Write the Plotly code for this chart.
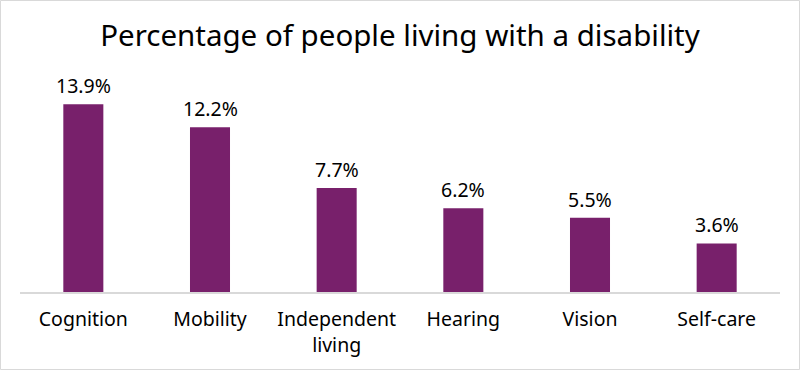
import plotly.graph_objects as go

categories = ["Cognition", "Mobility", "Independent living", "Hearing", "Vision", "Self-care"]
tick_labels = ["Cognition", "Mobility", "Independent<br>living", "Hearing", "Vision", "Self-care"]
values = [13.9, 12.2, 7.7, 6.2, 5.5, 3.6]
value_labels = ["13.9%", "12.2%", "7.7%", "6.2%", "5.5%", "3.6%"]

BAR = "#78206B"
FONT = "Noto Sans"

fig = go.Figure()
fig.add_trace(go.Bar(
    x=categories, y=values, marker=dict(color=BAR, line=dict(width=0)),
    width=0.316, hoverinfo="skip",
))
for c, v, t in zip(categories, values, value_labels):
    fig.add_annotation(x=c, y=v, text=t, showarrow=False, yanchor="bottom",
                       yshift=3, font=dict(family=FONT, size=19.5, color="#000000"))

fig.update_layout(
    width=800, height=370,
    margin=dict(l=20, r=20, t=76, b=78),
    paper_bgcolor="white", plot_bgcolor="white",
    showlegend=False,
    title=dict(text="Percentage of people living with a disability",
               x=0.5, xanchor="center", y=1 - 36 / 370, yanchor="middle",
               font=dict(family=FONT, size=29.5, color="#000000")),
    xaxis=dict(tickmode="array", tickvals=categories, ticktext=tick_labels,
               showline=True, linecolor="#D9D9D9", linewidth=1.5,
               ticks="", showgrid=False, tickfont=dict(family=FONT, size=19.5, color="#000000"),
               ticklabelstandoff=9, fixedrange=True),
    yaxis=dict(range=[0, 16], visible=False, showgrid=False, zeroline=False, fixedrange=True),
    shapes=[dict(type="rect", xref="paper", yref="paper",
                 x0=-19.5 / 760, x1=1 + 19.5 / 760, y0=-77.5 / 216, y1=1 + 75.5 / 216,
                 line=dict(color="#D9D9D9", width=1), fillcolor="rgba(0,0,0,0)", layer="below")],
)
fig.write_html("out.html", config={"displayModeBar": False},
               post_script="document.body.style.margin='0';document.body.style.overflow='hidden';")
